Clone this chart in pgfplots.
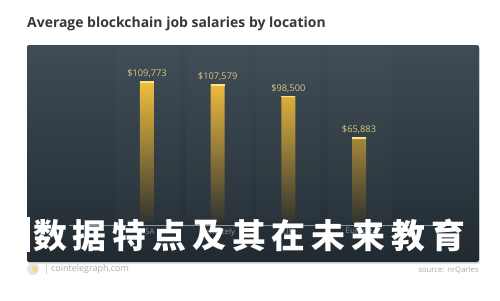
\documentclass[border=0pt]{standalone}
\usepackage{pgfplots}
\pgfplotsset{compat=1.18}
\usepackage{fontspec}
\setmainfont{Open Sans}
\newfontfamily\cjk{Noto Sans CJK SC}

\definecolor{titlegray}{RGB}{55,55,55}
\definecolor{paneltop}{RGB}{62,76,86}
\definecolor{panelbot}{RGB}{33,42,49}
\definecolor{goldtop}{RGB}{240,190,62}
\definecolor{goldmid}{RGB}{206,158,50}
\definecolor{goldbot}{RGB}{50,52,48}
\definecolor{goldhi}{RGB}{255,226,130}
\definecolor{labelgold}{RGB}{218,198,128}
\definecolor{catgray}{RGB}{138,148,156}
\definecolor{footgray}{RGB}{170,170,170}

\begin{document}
\begin{tikzpicture}
\begin{scope}[x=1bp,y=-1bp]
  \fill[white] (0,0) rectangle (500,300);
  \path[use as bounding box] (0,0) rectangle (500,300);
  % title
  \node[anchor=base west, inner sep=0pt, font=\bfseries\fontsize{14}{16}\selectfont, text=titlegray]
    at (27,27.5) {Average blockchain job salaries by location};
  % soft shadow under the panel
  \fill[black!12, rounded corners=2bp] (28,47) rectangle (480,264);
\end{scope}

\begin{axis}[
  at={(27bp,-262bp)}, anchor=south west,
  scale only axis, width=452bp, height=217bp,
  xmin=-1.698, xmax=4.698,
  ymin=-31350, ymax=138724,
  axis background/.style={top color=paneltop, bottom color=panelbot, rounded corners=2bp},
  axis line style={draw=none},
  xtick=\empty, ytick=\empty,
  clip=false,
]
  % faint column bands
  \addplot[ybar, bar shift=0pt, bar width=64bp, draw=none, fill=white, fill opacity=0.015]
    coordinates {(0,138000) (1,138000) (2,138000) (3,138000)};

  % baseline rule
  \draw[white!40!paneltop, line width=0.6bp] (axis cs:-1.1,-2350) -- (axis cs:4.1,-2350);

  % salary bars
  \addplot[ybar, bar shift=0pt, bar width=14bp, draw=none,
           top color=goldtop, middle color=goldmid, bottom color=goldbot,
           point meta=explicit symbolic, nodes near coords,
           every node near coord/.append style={font=\fontsize{9.3}{10}\selectfont, text=labelgold, yshift=0.5bp}]
    coordinates {(0,109773) [\$109,773] (1,107579) [\$107,579] (2,98500) [\$98,500] (3,65883) [\$65,883]};

  % bright cap on each bar
  \addplot[only marks, mark=-, mark size=7bp, mark options={line width=1.6bp, draw=goldhi}]
    coordinates {(0,109773) (1,107579) (2,98500) (3,65883)};

  % location names
  \node[font=\fontsize{8}{9}\selectfont, text=catgray] at (axis cs:0,-7840) {USA};
  \node[font=\fontsize{8}{9}\selectfont, text=catgray] at (axis cs:1,-7840) {Remotely};
  \node[font=\fontsize{8}{9}\selectfont, text=catgray] at (axis cs:2,-7840) {UK};
  \node[font=\fontsize{8}{9}\selectfont, text=catgray] at (axis cs:3,-7840) {Europe};
\end{axis}

\begin{scope}[x=1bp,y=-1bp]
  % overlaid caption
  \fill[white] (25,217) rectangle (30,252);
  \foreach \c [count=\i from 0] in {数,据,特,点,及,其,在,未,来,教,育}
    \node[font=\cjk\bfseries\fontsize{34}{36}\selectfont, text=white, inner sep=0pt]
      at ({50+\i*39.8},235.5) {\c};
  % footer
  \fill[black!10] (33,269) circle (6);
  \fill[goldtop!60!white] (35,269) circle (3);
  \draw[black!18, line width=0.5bp] (46,264) -- (46,274);
  \node[anchor=west, inner sep=0pt, font=\fontsize{9}{10}\selectfont, text=footgray] at (51,269.5) {cointelegraph.com};
  \node[anchor=east, inner sep=0pt, font=\fontsize{7.8}{9}\selectfont, text=footgray] at (479,270) {source: nrQarles};
\end{scope}
\end{tikzpicture}
\end{document}
